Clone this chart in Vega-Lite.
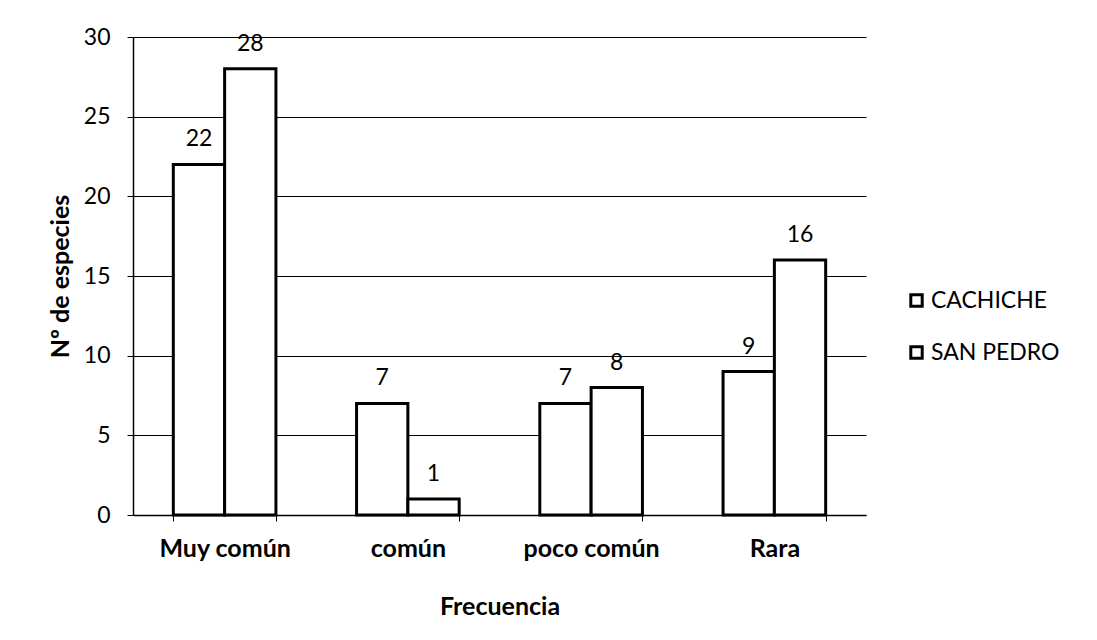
{
  "$schema": "https://vega.github.io/schema/vega-lite/v6.json",
  "autosize": "none",
  "width": 733,
  "height": 478,
  "padding": {"left": 133, "top": 37, "right": 231, "bottom": 125},
  "background": "white",
  "data": {
    "values": [
      {"Frecuencia": "Muy común", "Sitio": "CACHICHE", "Especies": 22},
      {"Frecuencia": "Muy común", "Sitio": "SAN PEDRO", "Especies": 28},
      {"Frecuencia": "común", "Sitio": "CACHICHE", "Especies": 7},
      {"Frecuencia": "común", "Sitio": "SAN PEDRO", "Especies": 1},
      {"Frecuencia": "poco común", "Sitio": "CACHICHE", "Especies": 7},
      {"Frecuencia": "poco común", "Sitio": "SAN PEDRO", "Especies": 8},
      {"Frecuencia": "Rara", "Sitio": "CACHICHE", "Especies": 9},
      {"Frecuencia": "Rara", "Sitio": "SAN PEDRO", "Especies": 16}
    ]
  },
  "encoding": {
    "x": {
      "field": "Frecuencia",
      "type": "nominal",
      "sort": ["Muy común", "común", "poco común", "Rara"],
      "scale": {"paddingInner": 0.44, "paddingOuter": 0.22},
      "axis": {
        "title": "Frecuencia",
        "labelAngle": 0,
        "labelFont": "Lato",
        "labelFontSize": 25,
        "labelFontWeight": "bold",
        "labelColor": "black",
        "labelPadding": 15,
        "titleFont": "Lato",
        "titleFontSize": 25,
        "titleFontWeight": "bold",
        "titleColor": "black",
        "titlePadding": 33,
        "tickBand": "extent",
        "tickSize": 6,
        "tickColor": "black",
        "domainColor": "black",
        "domainWidth": 1.5,
        "grid": false
      }
    },
    "xOffset": {"field": "Sitio", "type": "nominal", "scale": {"paddingInner": 0}},
    "y": {
      "field": "Especies",
      "type": "quantitative",
      "scale": {"domain": [0, 30]},
      "axis": {
        "title": "Nº de especies",
        "values": [0, 5, 10, 15, 20, 25, 30],
        "labelFont": "Lato",
        "labelFontSize": 23,
        "labelColor": "black",
        "labelPadding": 17,
        "tickSize": 6,
        "tickColor": "black",
        "domainColor": "black",
        "domainWidth": 1.5,
        "gridColor": "black",
        "gridWidth": 1,
        "gridOpacity": 1,
        "titleFont": "Lato",
        "titleFontSize": 25,
        "titleFontWeight": "bold",
        "titleColor": "black",
        "titlePadding": 10
      }
    }
  },
  "layer": [
    {
      "mark": {"type": "bar", "stroke": "black", "strokeWidth": 3},
      "encoding": {
        "fill": {
          "field": "Sitio",
          "type": "nominal",
          "scale": {"range": ["white", "white"]},
          "legend": {
            "title": null,
            "orient": "none",
            "legendX": 772,
            "legendY": 252,
            "symbolType": "square",
            "symbolSize": 130,
            "symbolStrokeColor": "black",
            "symbolStrokeWidth": 3,
            "labelFont": "Lato",
            "labelFontSize": 23,
            "labelColor": "black",
            "labelOffset": 3,
            "rowPadding": 27
          }
        }
      }
    },
    {
      "mark": {"type": "text", "baseline": "alphabetic", "dy": -18, "font": "Lato", "fontSize": 23, "color": "black"},
      "encoding": {"text": {"field": "Especies", "type": "quantitative"}}
    }
  ],
  "config": {"view": {"stroke": null}}
}
